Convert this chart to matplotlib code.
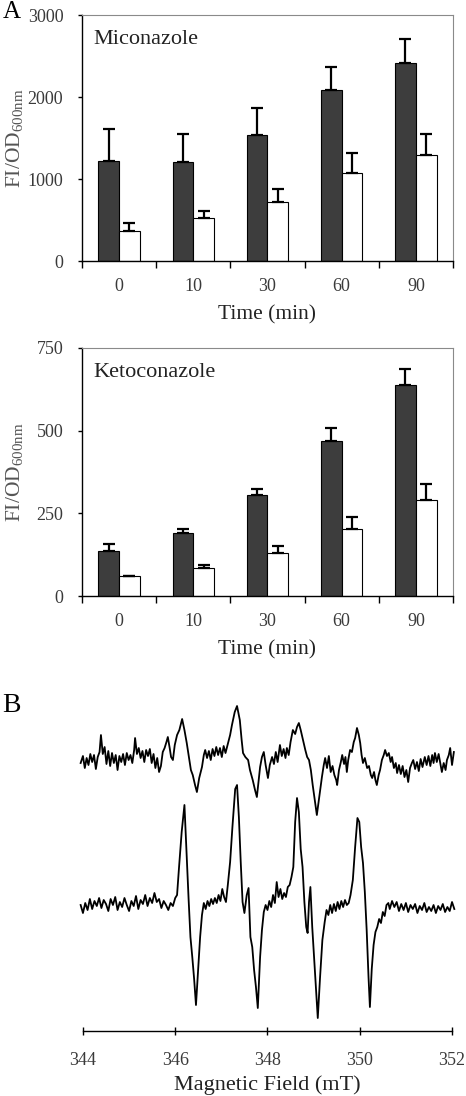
import matplotlib
matplotlib.use("Agg")
import matplotlib.pyplot as plt
import numpy as np

plt.rcParams["font.family"] = ["Liberation Serif", "DejaVu Serif"]
plt.rcParams["mathtext.fontset"] = "custom"
plt.rcParams["mathtext.rm"] = "Liberation Serif"

# ---- panel A data ----
times = ["0", "10", "30", "60", "90"]

mic_dark = [1225, 1205, 1540, 2080, 2420]
mic_dark_err = [380, 340, 330, 285, 285]
mic_white = [370, 520, 725, 1075, 1295]
mic_white_err = [90, 90, 155, 240, 250]

keto_dark = [137, 192, 304, 470, 637]
keto_dark_err = [19, 10, 20, 37, 48]
keto_white = [59, 84, 129, 204, 291]
keto_white_err = [2, 10, 23, 36, 48]

# ---- panel B data (field in mT, intensity in a.u.) ----
top_field = [
    343.95, 344.00, 344.04, 344.08, 344.12, 344.16, 344.20, 344.24, 344.28, 344.32,
    344.36, 344.39, 344.43, 344.47, 344.51, 344.55, 344.59, 344.63, 344.67, 344.71,
    344.75, 344.79, 344.83, 344.87, 344.91, 344.95, 344.99, 345.03, 345.07, 345.11,
    345.13, 345.17, 345.21, 345.25, 345.29, 345.33, 345.37, 345.41, 345.45, 345.49,
    345.53, 345.57, 345.61, 345.65, 345.69, 345.73, 345.77, 345.81, 345.84, 345.88,
    345.91, 345.95, 345.99, 346.04, 346.09, 346.15, 346.20, 346.25, 346.30, 346.34,
    346.38, 346.43, 346.47, 346.52, 346.58, 346.62, 346.65, 346.69, 346.73, 346.77,
    346.81, 346.85, 346.89, 346.93, 346.97, 347.01, 347.05, 347.09, 347.14, 347.19,
    347.23, 347.29, 347.34, 347.40, 347.44, 347.47, 347.52, 347.58, 347.62, 347.68,
    347.73, 347.77, 347.81, 347.84, 347.88, 347.92, 347.96, 348.01, 348.05, 348.10,
    348.14, 348.18, 348.22, 348.27, 348.31, 348.35, 348.39, 348.42, 348.46, 348.50,
    348.55, 348.60, 348.64, 348.68, 348.72, 348.77, 348.82, 348.86, 348.90, 348.94,
    348.98, 349.03, 349.07, 349.12, 349.18, 349.22, 349.25, 349.29, 349.33, 349.37,
    349.41, 349.45, 349.49, 349.51, 349.55, 349.59, 349.62, 349.66, 349.69, 349.72,
    349.75, 349.79, 349.83, 349.87, 349.90, 349.94, 349.98, 350.01, 350.04, 350.07,
    350.11, 350.16, 350.20, 350.24, 350.27, 350.31, 350.34, 350.37, 350.41, 350.44,
    350.48, 350.52, 350.55, 350.59, 350.63, 350.67, 350.70, 350.74, 350.78, 350.81,
    350.85, 350.89, 350.93, 350.97, 351.01, 351.05, 351.09, 351.13, 351.16, 351.20,
    351.24, 351.28, 351.32, 351.36, 351.41, 351.45, 351.49, 351.53, 351.57, 351.60,
    351.63, 351.67, 351.71, 351.75, 351.78, 351.82, 351.86, 351.89, 351.93, 351.96,
    352.00, 352.04,
]
top_signal = [
    -3, 4, -8, 2, -5, 6, -2, 5, -9, 3,
    8, 25, 6, 13, -4, 9, -6, 7, -3, 5,
    -10, 4, -2, 6, -5, 7, 0, 5, -3, 10,
    22, 6, 12, 2, 9, -2, 10, 4, 11, -3,
    6, -8, 2, -12, -6, 8, 12, 18, 23, 12,
    3, 0, 15, 25, 30, 41, 30, 17, 2, -10,
    -15, -25, -32, -18, -7, 5, 10, 2, 9, 0,
    11, 4, 13, 5, 12, 3, 14, 7, 16, 25,
    35, 48, 54, 40, 20, 7, 3, 0, -10, -20,
    -30, -37, -20, -7, 3, 8, -5, -18, -5, 3,
    -4, 8, -2, 15, 4, 11, 2, 12, 5, 18,
    30, 26, 33, 37, 30, 20, 10, 3, 0, -10,
    -25, -42, -55, -38, -17, -5, 2, -8, 4, -12,
    -6, -15, -20, -25, -10, -2, 5, -4, 3, -12,
    0, 10, 8, 18, 22, 32, 25, 17, 5, -3,
    2, -8, -6, -15, -18, -12, -20, -25, -15, -10,
    0, 5, 10, 4, 7, -2, 3, -8, -3, -13,
    -5, -14, -6, -17, -10, -22, -8, -3, 0, -9,
    -2, -11, 1, -7, 3, -5, 4, -6, 5, -3,
    7, -2, 6, -4, -12, -3, -10, 0, 5, 12,
    -5, 8,
]

bottom_field = [
    343.95, 344.00, 344.05, 344.10, 344.15, 344.20, 344.25, 344.30, 344.35, 344.40,
    344.45, 344.50, 344.55, 344.60, 344.65, 344.70, 344.75, 344.80, 344.85, 344.90,
    344.95, 345.00, 345.05, 345.10, 345.15, 345.20, 345.25, 345.30, 345.35, 345.40,
    345.45, 345.50, 345.55, 345.60, 345.65, 345.70, 345.75, 345.80, 345.85, 345.90,
    345.95, 346.00, 346.04, 346.08, 346.14, 346.20, 346.25, 346.29, 346.33, 346.37,
    346.41, 346.45, 346.50, 346.54, 346.58, 346.62, 346.66, 346.70, 346.74, 346.78,
    346.82, 346.86, 346.90, 346.94, 346.98, 347.02, 347.06, 347.10, 347.14, 347.19,
    347.24, 347.30, 347.34, 347.38, 347.42, 347.46, 347.50, 347.55, 347.59, 347.63,
    347.67, 347.71, 347.75, 347.79, 347.84, 347.88, 347.92, 347.96, 348.00, 348.04,
    348.08, 348.12, 348.16, 348.20, 348.24, 348.28, 348.32, 348.36, 348.40, 348.44,
    348.48, 348.52, 348.56, 348.60, 348.64, 348.68, 348.72, 348.76, 348.80, 348.84,
    348.87, 348.90, 348.93, 348.97, 349.01, 349.05, 349.09, 349.14, 349.19, 349.24,
    349.28, 349.32, 349.36, 349.40, 349.44, 349.48, 349.52, 349.56, 349.60, 349.64,
    349.68, 349.72, 349.76, 349.80, 349.85, 349.90, 349.95, 349.99, 350.03, 350.07,
    350.11, 350.15, 350.19, 350.22, 350.26, 350.30, 350.34, 350.38, 350.42, 350.46,
    350.50, 350.54, 350.58, 350.62, 350.65, 350.70, 350.75, 350.80, 350.85, 350.90,
    350.95, 351.00, 351.05, 351.10, 351.15, 351.20, 351.25, 351.30, 351.35, 351.40,
    351.45, 351.50, 351.55, 351.60, 351.65, 351.70, 351.75, 351.80, 351.85, 351.90,
    351.95, 352.00, 352.05,
]
bottom_signal = [
    2, -6, 4, -3, 8, -2, 6, 1, 9, -1,
    7, 3, -4, 8, 2, 10, -3, 5, 0, 9,
    2, -4, 6, 1, 11, -2, 7, 3, 12, 1,
    9, 4, 14, 5, 8, -1, 6, 2, -3, 4,
    1, 9, 12, 38, 75, 102, 50, 8, -30, -50,
    -72, -98, -60, -30, -8, 4, -2, 6, 1, 8,
    3, 9, 4, 12, 6, 18, 10, 5, 22, 45,
    80, 118, 122, 90, 45, 5, -6, 12, 19, -30,
    -40, -63, -80, -101, -50, -23, -5, 2, -3, 6,
    0, 12, 4, 25, 10, 18, 8, 14, 10, 20,
    22, 30, 40, 85, 109, 95, 58, 40, 5, -20,
    -26, 5, 20, -20, -50, -80, -111, -70, -33, -15,
    -3, -8, 2, -6, 3, -4, 5, -2, 6, 0,
    7, 2, 4, 12, 27, 60, 89, 85, 60, 44,
    15, -23, -70, -100, -62, -38, -25, -20, -12, -16,
    -5, -9, 2, 4, -2, 6, 0, 5, -4, 3,
    -3, 4, -5, 2, -2, 3, -6, 1, -3, 4,
    -5, 0, -4, 2, -6, 1, -3, 3, -5, 0,
    -4, 5, -2,
]
field_ticks = [344, 346, 348, 350, 352]

DARK = "#3d3d3d"
LABEL_GREY = "#3a3a3a"


def bar_panel(ax, dark, dark_err, white, white_err, ticks, name):
    x = np.arange(len(times))
    w = 0.28
    ax.bar(x - w / 2, dark, w, color=DARK, edgecolor="black", linewidth=0.8, zorder=2)
    ax.bar(x + w / 2, white, w, color="white", edgecolor="black", linewidth=0.8, zorder=2)
    ax.errorbar(x - w / 2, dark, yerr=[np.zeros(len(dark)), dark_err], fmt="none",
                ecolor="black", elinewidth=1.6, capsize=4.5, capthick=1.6, zorder=3)
    ax.errorbar(x + w / 2, white, yerr=[np.zeros(len(white)), white_err], fmt="none",
                ecolor="black", elinewidth=1.6, capsize=4.5, capthick=1.6, zorder=3)

    ax.set_xlim(-0.5, len(times) - 0.5)
    ax.set_ylim(0, ticks[-1])
    ax.set_yticks(ticks)
    ax.set_xticks(x)
    ax.set_xticklabels(times)
    ax.set_xticks(np.arange(-0.5, len(times)), minor=True)
    ax.tick_params(axis="x", which="major", length=0, pad=12, labelsize=13,
                   labelcolor=LABEL_GREY)
    ax.tick_params(axis="x", which="minor", length=5, width=1, direction="out")
    ax.tick_params(axis="y", length=3, width=1, direction="out", pad=10.5,
                   labelsize=13, labelcolor=LABEL_GREY)

    for s in ("top", "right"):
        ax.spines[s].set_color("#8a8a8a")
        ax.spines[s].set_linewidth(0.8)
    for s in ("left", "bottom"):
        ax.spines[s].set_color("black")
        ax.spines[s].set_linewidth(1.0)

    ax.set_ylabel(r"FI/OD$_{\mathrm{600nm}}$", fontsize=15.5, color="#555555")
    ax.yaxis.set_label_coords(-0.15, 0.5)
    ax.set_xlabel("Time (min)", fontsize=15.5, color="#222222")
    ax.xaxis.set_label_coords(0.5, -0.18)
    ax.text(0.03, 0.90, name, transform=ax.transAxes, fontsize=16,
            color="#222222", va="center", ha="left")


fig = plt.figure(figsize=(4.66, 10.96), dpi=100)

ax1 = fig.add_axes([0.176, 0.7618, 0.796, 0.2245])
bar_panel(ax1, mic_dark, mic_dark_err, mic_white, mic_white_err,
          [0, 1000, 2000, 3000], "Miconazole")

ax2 = fig.add_axes([0.176, 0.4562, 0.796, 0.2263])
bar_panel(ax2, keto_dark, keto_dark_err, keto_white, keto_white_err,
          [0, 250, 500, 750], "Ketoconazole")

ax3 = fig.add_axes([0.178, 0.0593, 0.792, 0.302])
ax3.plot(top_field, np.array(top_signal) + 271, color="black", lw=1.3, clip_on=False)
ax3.plot(bottom_field, np.array(bottom_signal) + 124, color="black", lw=1.3, clip_on=False)
ax3.set_xlim(344, 352)
ax3.set_ylim(0, 331)
ax3.set_xticks(field_ticks)
ax3.set_yticks([])
for s in ("top", "right", "left"):
    ax3.spines[s].set_visible(False)
ax3.spines["bottom"].set_linewidth(1.0)
ax3.tick_params(axis="x", length=6, width=1, direction="inout", pad=12,
                labelsize=13, labelcolor=LABEL_GREY)
ax3.set_xlabel("Magnetic Field (mT)", fontsize=16, color="#222222")
ax3.xaxis.set_label_coords(0.5, -0.135)

fig.text(0.005, 1 - 12 / 1096, "A", fontsize=18, va="center", ha="left")
fig.text(0.005, 1 - 705 / 1096, "B", fontsize=20, va="center", ha="left")

fig.savefig("out.png", dpi=100)
